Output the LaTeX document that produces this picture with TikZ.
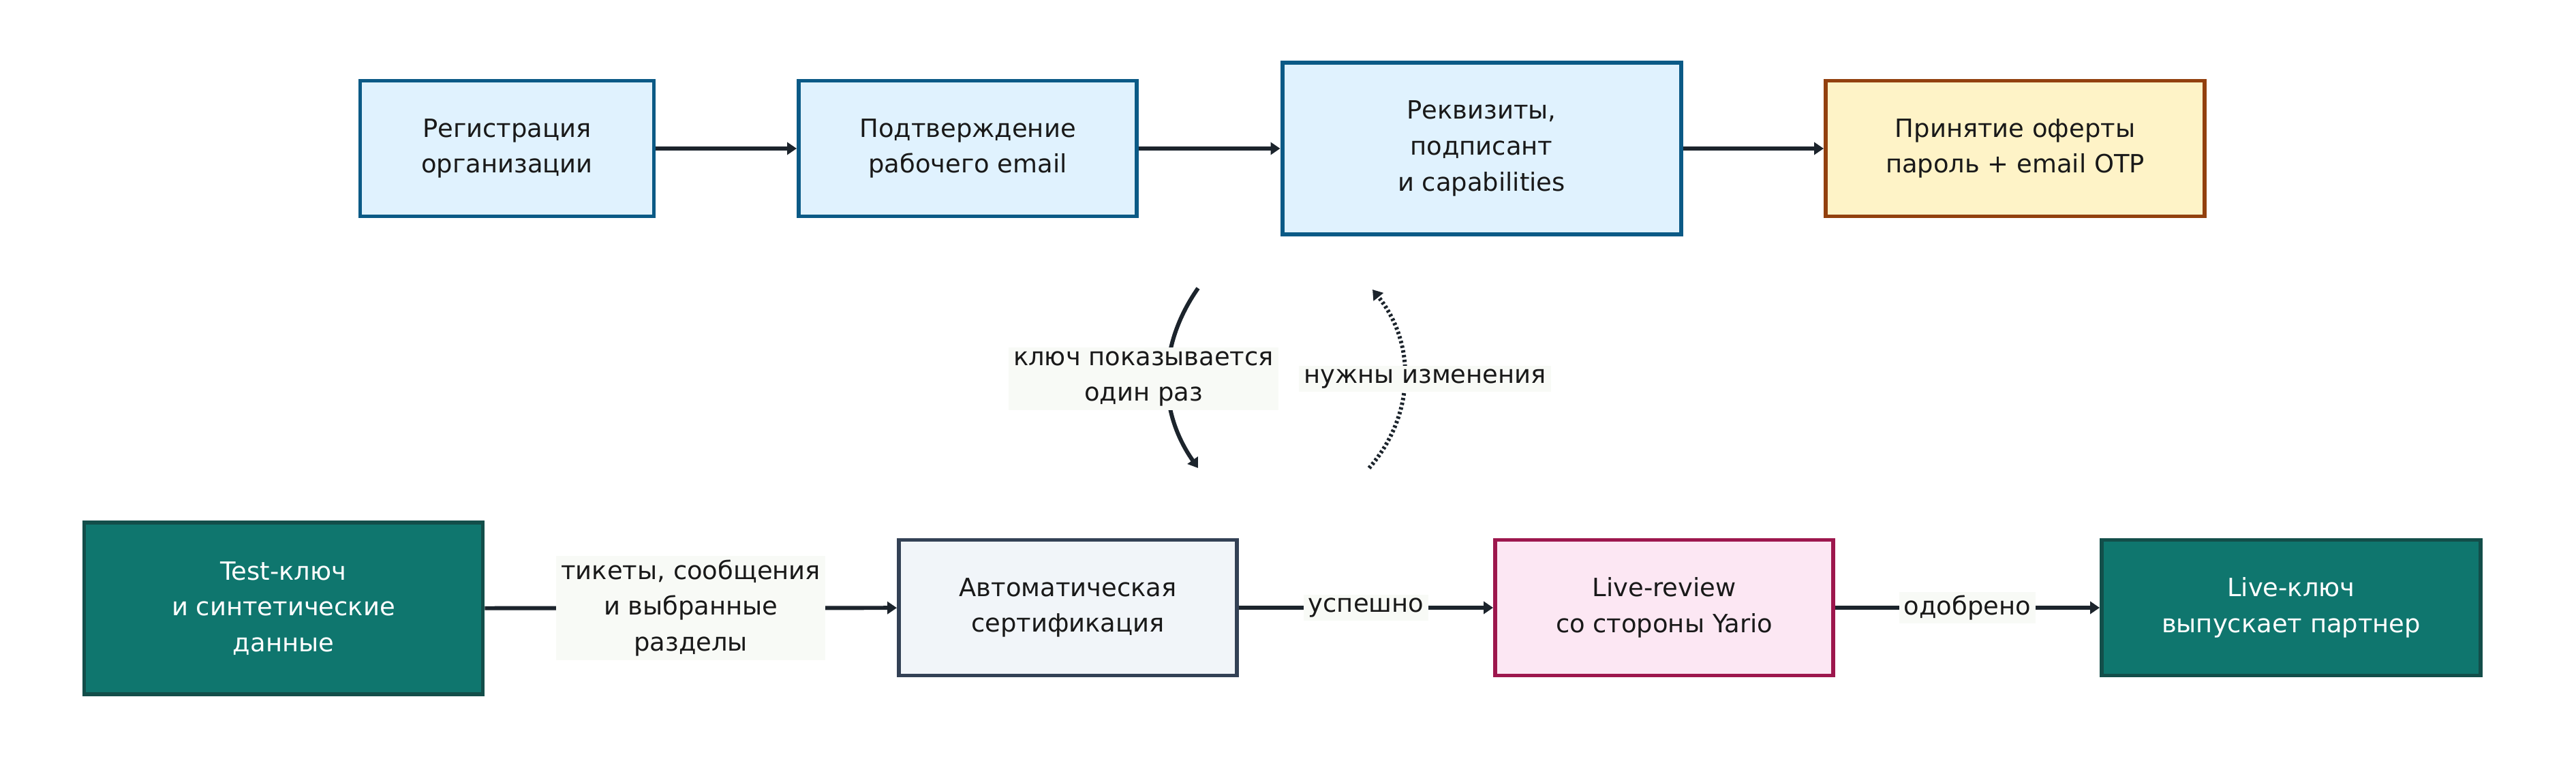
\documentclass[tikz,border=0pt]{standalone}
\usepackage{fontspec}
\setmainfont{DejaVu Sans}
\usetikzlibrary{arrows.meta}

\definecolor{bluefill}{HTML}{E0F2FE}
\definecolor{blueline}{HTML}{0B5A86}
\definecolor{yellowfill}{HTML}{FEF3C7}
\definecolor{yellowline}{HTML}{92400E}
\definecolor{tealfill}{HTML}{0F766E}
\definecolor{tealline}{HTML}{134E4A}
\definecolor{grayfill}{HTML}{F1F5F9}
\definecolor{grayline}{HTML}{334155}
\definecolor{pinkfill}{HTML}{FCE7F3}
\definecolor{pinkline}{HTML}{9D174D}
\definecolor{arrowcol}{HTML}{1C242C}
\definecolor{labelfill}{HTML}{F8FAF6}

\begin{document}
\begin{tikzpicture}[
  box/.style={rectangle, draw, line width=1.7pt, align=center, text=black!90,
    font=\fontsize{10.5}{15}\selectfont, minimum height=1.99cm},
  bluebox/.style={box, fill=bluefill, draw=blueline},
  yellowbox/.style={box, fill=yellowfill, draw=yellowline},
  tealbox/.style={box, fill=tealfill, draw=tealline, text=white},
  graybox/.style={box, fill=grayfill, draw=grayline},
  pinkbox/.style={box, fill=pinkfill, draw=pinkline},
  flow/.style={draw=arrowcol, line width=1.7pt, -{Triangle[length=0.14cm, width=0.18cm]}},
  lbl/.style={fill=labelfill, align=center, inner xsep=2pt, inner ysep=1.5pt,
    text=black!90, font=\fontsize{10.5}{15}\selectfont}
]
\useasboundingbox (0,0) rectangle (37.8,11.16);

% top row
\node[bluebox, minimum width=4.31cm] (reg) at (7.44, 8.98) {Регистрация\\организации};
\node[bluebox, minimum width=4.96cm] (confirm) at (14.20, 8.98) {Подтверждение\\рабочего email};
\node[bluebox, minimum width=5.85cm, minimum height=2.52cm] (details) at (21.74, 8.98) {Реквизиты,\\подписант\\и capabilities};
\node[yellowbox, minimum width=5.56cm] (offer) at (29.57, 8.98) {Принятие оферты\\пароль + email OTP};

% bottom row
\node[tealbox, minimum width=5.85cm, minimum height=2.52cm] (testkey) at (4.16, 2.23) {Test-ключ\\и синтетические\\данные};
\node[graybox, minimum width=4.96cm] (autocert) at (15.67, 2.24) {Автоматическая\\сертификация};
\node[pinkbox, minimum width=4.96cm] (review) at (24.42, 2.24) {Live-review\\со стороны Yario};
\node[tealbox, minimum width=5.56cm] (livekey) at (33.62, 2.24) {Live-ключ\\выпускает партнер};

\draw[flow] (reg) -- (confirm);
\draw[flow] (confirm) -- (details);
\draw[flow] (details) -- (offer);

\draw[flow] (testkey) -- (autocert) node[lbl, midway] (tickets) {тикеты, сообщения\\и выбранные\\разделы};
\draw[flow] (autocert) -- (review) node[lbl, midway] (ok) {успешно};
\draw[flow] (review) -- (livekey) node[lbl, midway] (approved) {одобрено};

% curved links between the rows
\coordinate (keytop) at (17.58, 6.93);
\coordinate (keybot) at (17.58, 4.29);
\coordinate (fixbot) at (20.09, 4.29);
\coordinate (fixtop) at (20.14, 6.91);

\draw[flow] (keytop) to[bend right=35] (keybot);
\draw[flow, dash pattern=on 1pt off 1pt] (fixbot) to[bend right=40] (fixtop);

\node[lbl] (keyonce) at (16.78, 5.60) {ключ показывается\\один раз};
\node[lbl] (changes) at (20.91, 5.60) {нужны изменения};

\end{tikzpicture}
\end{document}
